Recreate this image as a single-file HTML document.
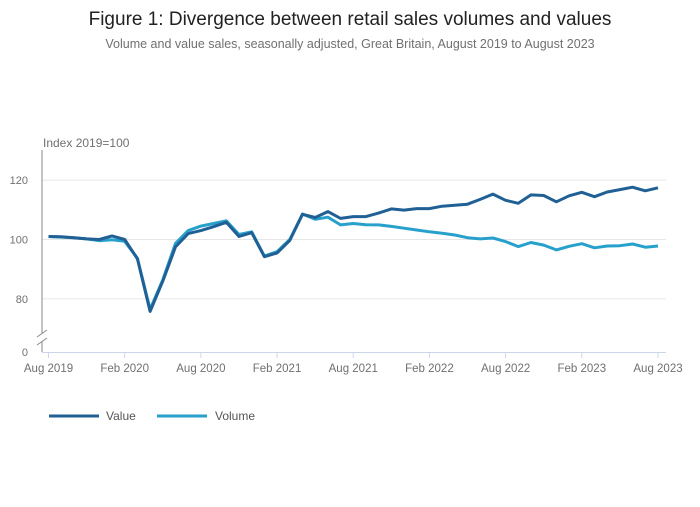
<!DOCTYPE html>
<html><head><meta charset="utf-8"><style>
body{margin:0;background:#fff;font-family:"Liberation Sans",sans-serif}
svg text{font-family:"Liberation Sans",sans-serif}
</style></head><body>
<svg id="chart" width="700" height="502" xmlns="http://www.w3.org/2000/svg">
<text x="350" y="25" text-anchor="middle" font-size="19" fill="#222">Figure 1: Divergence between retail sales volumes and values</text>
<text x="350" y="48" text-anchor="middle" font-size="12.5" fill="#707070">Volume and value sales, seasonally adjusted, Great Britain, August 2019 to August 2023</text>
<text x="43" y="147" font-size="12" fill="#707070">Index 2019=100</text>
<g id="grid"></g>
<line x1="42" y1="150" x2="42" y2="334" stroke="#888" stroke-width="1"/>
<line x1="42" y1="341" x2="42" y2="352" stroke="#888" stroke-width="1"/>
<line x1="37" y1="337" x2="47" y2="330" stroke="#888"/>
<line x1="37" y1="345" x2="47" y2="338" stroke="#888"/>
<text x="28" y="356" text-anchor="end" font-size="11" fill="#707070">0</text>
<line x1="42" y1="352.5" x2="666" y2="352.5" stroke="#ccd6eb"/>
<g id="xaxis"></g>
<g id="series"></g>
<g>
<g><line x1="49" y1="416" x2="99" y2="416" stroke="#206095" stroke-width="3"/><text x="106" y="420" font-size="12" fill="#555">Value</text></g>
<g><line x1="157" y1="416" x2="207" y2="416" stroke="#27a0cc" stroke-width="3"/><text x="215" y="420" font-size="12" fill="#555">Volume</text></g>
</g>
</svg>
<script>
const yTicks=[80,100,120];
const xTickLabels=["Aug 2019","Feb 2020","Aug 2020","Feb 2021","Aug 2021","Feb 2022","Aug 2022","Feb 2023","Aug 2023"];
const valueSeries=[101,100.9,100.6,100.2,100,101.2,100,93.5,75.8,86,97.5,102,103,104.3,105.8,101,102.3,94.2,95.5,99.7,108.5,107.4,109.4,107.1,107.7,107.7,108.9,110.3,109.9,110.4,110.4,111.2,111.5,111.9,113.5,115.3,113.2,112.2,115,114.8,112.7,114.7,115.9,114.4,116,116.8,117.6,116.4,117.4];
const volumeSeries=[101,100.8,100.6,100.2,99.6,99.9,99.4,93.7,76.5,86.4,98.7,103,104.5,105.4,106.3,101.7,102.6,94.4,95.9,100,108.6,106.8,107.5,104.9,105.4,105,104.9,104.4,103.8,103.2,102.6,102.1,101.5,100.6,100.2,100.5,99.3,97.6,99,98.1,96.5,97.7,98.6,97.2,97.8,97.9,98.5,97.4,97.8];
const NS="http://www.w3.org/2000/svg";
const x=i=>48.5+i*(658-48.5)/48;
const y=v=>239.5-(v-100)*2.97;
function mk(tag,attrs,parent){const e=document.createElementNS(NS,tag);for(const k in attrs)e.setAttribute(k,attrs[k]);parent.appendChild(e);return e;}
const grid=document.getElementById('grid');
yTicks.forEach(t=>{
  const l=mk('line',{x1:42,x2:666,y1:y(t),y2:y(t),stroke:'#e6e6e6'},grid);
  
  
  const tx=mk('text',{x:28,y:y(t)+4,'text-anchor':'end','font-size':11,fill:'#707070'},grid);
  tx.textContent=t;
  
  
});
const xa=document.getElementById('xaxis');
xTickLabels.forEach((lab,k)=>{
  const xi=x(k*6);
  const l=mk('line',{x1:xi,x2:xi,y1:352,y2:358,stroke:'#ccd6eb'},xa);
  
  
  const tx=mk('text',{x:xi,y:372,'text-anchor':'middle','font-size':11.5,fill:'#707070'},xa);
  tx.textContent=lab;
  
  
});
const sg=document.getElementById('series');
[[volumeSeries,'#27a0cc','volume-line'],[valueSeries,'#206095','value-line']].forEach(([d,c,n])=>{
  const p=mk('path',{d:d.map((v,i)=>(i?'L':'M')+x(i).toFixed(1)+' '+y(v).toFixed(1)).join(''),fill:'none',stroke:c,'stroke-width':3,'stroke-linejoin':'round'},sg);
  
  
});
</script>
</body></html>
